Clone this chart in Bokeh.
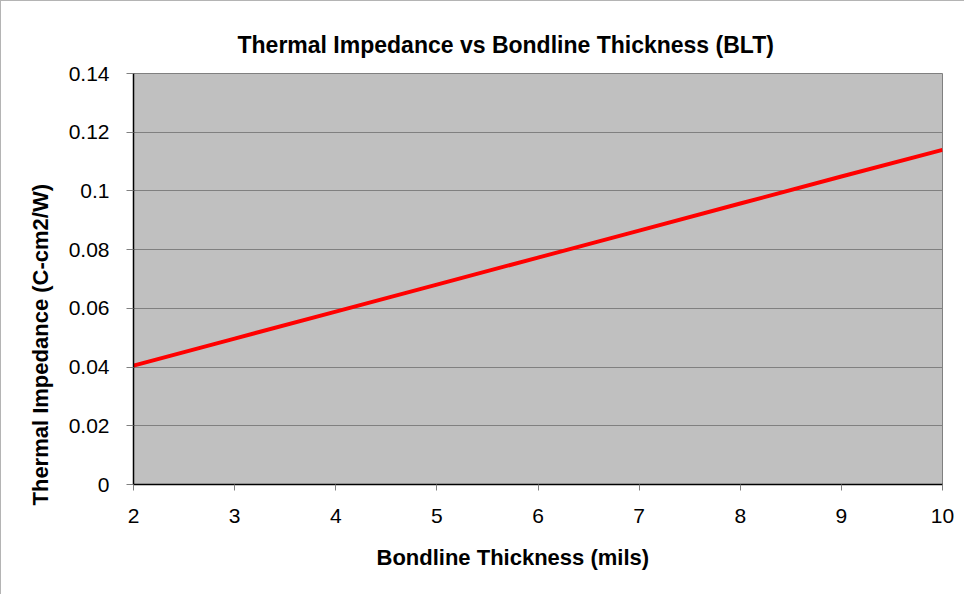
from bokeh.plotting import figure
from bokeh.models import FixedTicker, CustomJSTickFormatter, Title, Range1d
from bokeh.embed import file_html
from bokeh.resources import INLINE

# Data
blt_mils = [2, 3, 4, 5, 6, 7, 8, 9, 10]
impedance = [0.0405, 0.0497, 0.0589, 0.0681, 0.0773, 0.0865, 0.0957, 0.1049, 0.1140]
x_ticks = [2, 3, 4, 5, 6, 7, 8, 9, 10]
y_ticks = [0, 0.02, 0.04, 0.06, 0.08, 0.1, 0.12, 0.14]

title_text = "Thermal Impedance vs Bondline Thickness (BLT)"
x_label = "Bondline Thickness (mils)"
y_label = "Thermal Impedance (C-cm2/W)"

FONT = "Liberation Sans"

p = figure(width=964, height=594, output_backend="svg", toolbar_location=None,
           x_range=Range1d(2, 10), y_range=Range1d(0, 0.14),
           min_border_left=132, min_border_right=23, min_border_top=72, min_border_bottom=111,
           styles={"border-left": "1px solid #b4b4b4", "border-top": "1px solid #b4b4b4"})

p.background_fill_color = "#c0c0c0"
p.border_fill_color = "white"
p.outline_line_color = "#808080"
p.outline_line_width = 1

p.line(blt_mils, impedance, line_color="#ff0000", line_width=4)

# grid
p.xgrid.grid_line_color = None
p.ygrid.grid_line_color = "#808080"
p.ygrid.grid_line_width = 1

# axes
for ax in (p.xaxis[0], p.yaxis[0]):
    ax.axis_line_color = "black"
    ax.axis_line_width = 1.5
    ax.major_tick_line_color = "#808080"
    ax.major_tick_in = 0
    ax.minor_tick_line_color = None
    ax.major_label_text_font = FONT
    ax.major_label_text_font_size = "21px"
    ax.major_label_text_color = "black"

p.xaxis[0].ticker = FixedTicker(ticks=x_ticks)
p.xaxis[0].major_tick_out = 6
p.xaxis[0].major_label_standoff = 18
p.yaxis[0].ticker = FixedTicker(ticks=y_ticks)
p.yaxis[0].major_tick_out = 7
p.yaxis[0].major_label_standoff = 17
p.yaxis[0].formatter = CustomJSTickFormatter(code="return String(Number(tick.toFixed(2)));")

# titles placed like the reference
t = Title(text=title_text, align="left", offset=104, text_font=FONT, text_font_size="23px",
          text_font_style="bold", text_color="black", standoff=31)
p.add_layout(t, "above")

xl = Title(text=x_label, align="left", offset=243, text_font=FONT, text_font_size="22px",
           text_font_style="bold", text_color="black", vertical_align="top", standoff=38)
p.add_layout(xl, "below")

yl = Title(text=y_label, align="left", offset=-21, text_font=FONT, text_font_size="22px",
           text_font_style="bold", text_color="black", standoff=26)
p.add_layout(yl, "left")

open("out.html", "w").write(file_html(p, INLINE))
